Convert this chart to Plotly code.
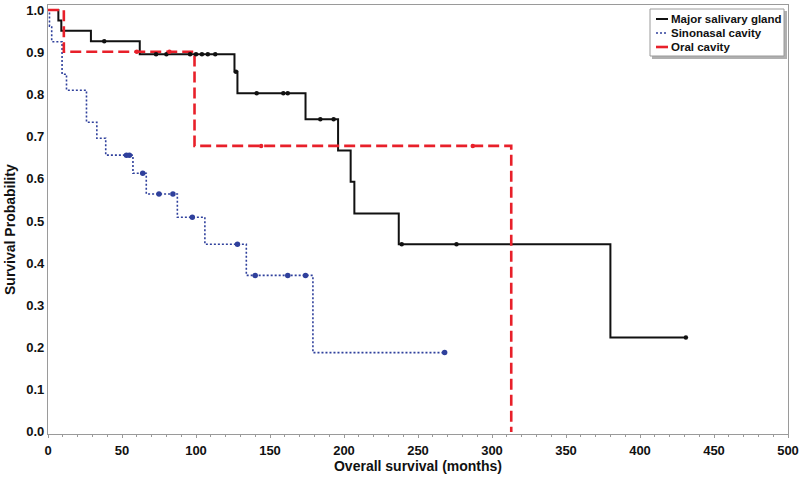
import plotly.graph_objects as go

# ---------------- data ----------------
major_t = [0, 7, 9, 29, 62, 126, 128, 174, 196, 204.5, 207, 237, 380, 431]
major_s = [1.0, 0.975, 0.951, 0.926, 0.895, 0.854, 0.803, 0.741, 0.667, 0.593, 0.518, 0.445, 0.224, 0.224]
major_cens = [38, 73, 80, 96, 100, 104, 108, 113, 127, 141, 159, 162, 184, 193, 239, 276, 431]

sino_t = [0, 1, 2.5, 9.5, 12.5, 26, 33, 39, 57.4, 66.4, 87.4, 106, 134, 179, 268]
sino_s = [1.0, 0.962, 0.925, 0.848, 0.81, 0.734, 0.696, 0.656, 0.613, 0.564, 0.509, 0.445, 0.371, 0.188, 0.188]
sino_cens = [53, 55, 64, 75, 84.4, 97.5, 128, 140, 162, 174, 268]

oral_t = [0, 10.7, 99, 313]
oral_s = [1.0, 0.901, 0.678, 0.0]
oral_cens = [60, 82, 144, 287]

series_names = ["Major salivary gland", "Sinonasal cavity", "Oral cavity"]
x_ticks = [0, 50, 100, 150, 200, 250, 300, 350, 400, 450, 500]
y_ticks = [0.0, 0.1, 0.2, 0.3, 0.4, 0.5, 0.6, 0.7, 0.8, 0.9, 1.0]
x_title = "Overall survival (months)"
y_title = "Survival Probability"

BLACK = "#111111"
BLUE = "#2f409c"
RED = "#e8202a"


def km_at(times, surv, t):
    val = surv[0]
    for ti, si in zip(times, surv):
        if ti <= t:
            val = si
    return val


fig = go.Figure()

# step curves
fig.add_trace(go.Scatter(x=major_t, y=major_s, mode="lines", line_shape="hv",
                         line=dict(color=BLACK, width=2), name=series_names[0], showlegend=False))
fig.add_trace(go.Scatter(x=sino_t, y=sino_s, mode="lines", line_shape="hv",
                         line=dict(color=BLUE, width=1.6, dash="2px,2px"), name=series_names[1], showlegend=False))
fig.add_trace(go.Scatter(x=oral_t, y=oral_s, mode="lines", line_shape="hv",
                         line=dict(color=RED, width=2.6, dash="11px,5px"), name=series_names[2], showlegend=False))

# censor marks
fig.add_trace(go.Scatter(x=major_cens, y=[km_at(major_t, major_s, t) for t in major_cens],
                         mode="markers", marker=dict(color=BLACK, size=4.5, symbol="circle"),
                         showlegend=False, hoverinfo="skip"))
fig.add_trace(go.Scatter(x=sino_cens, y=[km_at(sino_t, sino_s, t) for t in sino_cens],
                         mode="markers", marker=dict(color=BLUE, size=5.5, symbol="circle"),
                         showlegend=False, hoverinfo="skip"))
fig.add_trace(go.Scatter(x=oral_cens, y=[km_at(oral_t, oral_s, t) for t in oral_cens],
                         mode="markers", marker=dict(color=RED, size=4.5, symbol="circle"),
                         showlegend=False, hoverinfo="skip"))

# ---------------- layout ----------------
W, H = 800, 486
ML, MR, MT, MB = 48, 12, 5, 52
PW, PH = W - ML - MR, H - MT - MB


def px_x(px):  # page pixel -> paper
    return (px - ML) / PW


def px_y(py):
    return (H - MB - py) / PH


tick_font = dict(family="Liberation Sans, Arial", size=13, color="#111", weight="bold")
title_font = dict(family="Liberation Sans, Arial", size=14, color="#111", weight="bold")

shapes = []
# legend box with shadow
shapes.append(dict(type="rect", xref="paper", yref="paper",
                   x0=px_x(652), x1=px_x(787), y0=px_y(59), y1=px_y(11),
                   fillcolor="#b0b0b0", line=dict(width=0), layer="above"))
shapes.append(dict(type="rect", xref="paper", yref="paper",
                   x0=px_x(650), x1=px_x(784), y0=px_y(56), y1=px_y(9),
                   fillcolor="white", line=dict(color="#9a9a9a", width=1), layer="above"))
leg_rows = [19, 33, 47]
leg_styles = [dict(color=BLACK, width=2), dict(color=BLUE, width=1.6, dash="2px,2px"),
              dict(color=RED, width=2.6)]
annotations = []
for name, yy, st in zip(series_names, leg_rows, leg_styles):
    shapes.append(dict(type="line", xref="paper", yref="paper",
                       x0=px_x(656), x1=px_x(668), y0=px_y(yy), y1=px_y(yy),
                       line=st, layer="above"))
    annotations.append(dict(text=name, xref="paper", yref="paper",
                            x=px_x(669), y=px_y(yy), xanchor="left", yanchor="middle",
                            showarrow=False,
                            font=dict(family="Liberation Sans, Arial", size=11.5, color="#111", weight="bold")))

# y axis title placed precisely
annotations.append(dict(text=y_title, xref="paper", yref="paper",
                        x=px_x(10), y=px_y(230), xanchor="center", yanchor="middle",
                        textangle=-90, showarrow=False, font=title_font))

fig.update_layout(
    width=W, height=H,
    margin=dict(l=ML, r=MR, t=MT, b=MB, autoexpand=False),
    paper_bgcolor="white", plot_bgcolor="white",
    shapes=shapes, annotations=annotations,
    showlegend=False,
    xaxis=dict(range=[0, 500], tickvals=x_ticks, ticktext=[str(v) for v in x_ticks],
               automargin=False, ticklabeloverflow="allow",
               showgrid=False, zeroline=False, showline=True, linecolor="#9a9a9a", linewidth=1.2,
               mirror=True, ticks="outside", ticklen=3, tickcolor="#9a9a9a",
               ticklabelstandoff=1,
               minor=dict(dtick=10, ticks="outside", ticklen=2, tickcolor="#9a9a9a"),
               tickfont=tick_font,
               title=dict(text=x_title, font=title_font, standoff=4)),
    yaxis=dict(range=[-0.005, 1.012], tickvals=y_ticks, ticktext=[f"{v:.1f}" for v in y_ticks],
               automargin=False, ticklabeloverflow="allow",
               showgrid=False, zeroline=False, showline=True, linecolor="#9a9a9a", linewidth=1.2,
               mirror=True, ticks="", tickfont=tick_font),
)

# remove the default 8px page margin so the figure fills the window exactly; hide the modebar
fig.write_html("out.html", config={"displayModeBar": False},
               post_script="document.body.style.margin='0';")
